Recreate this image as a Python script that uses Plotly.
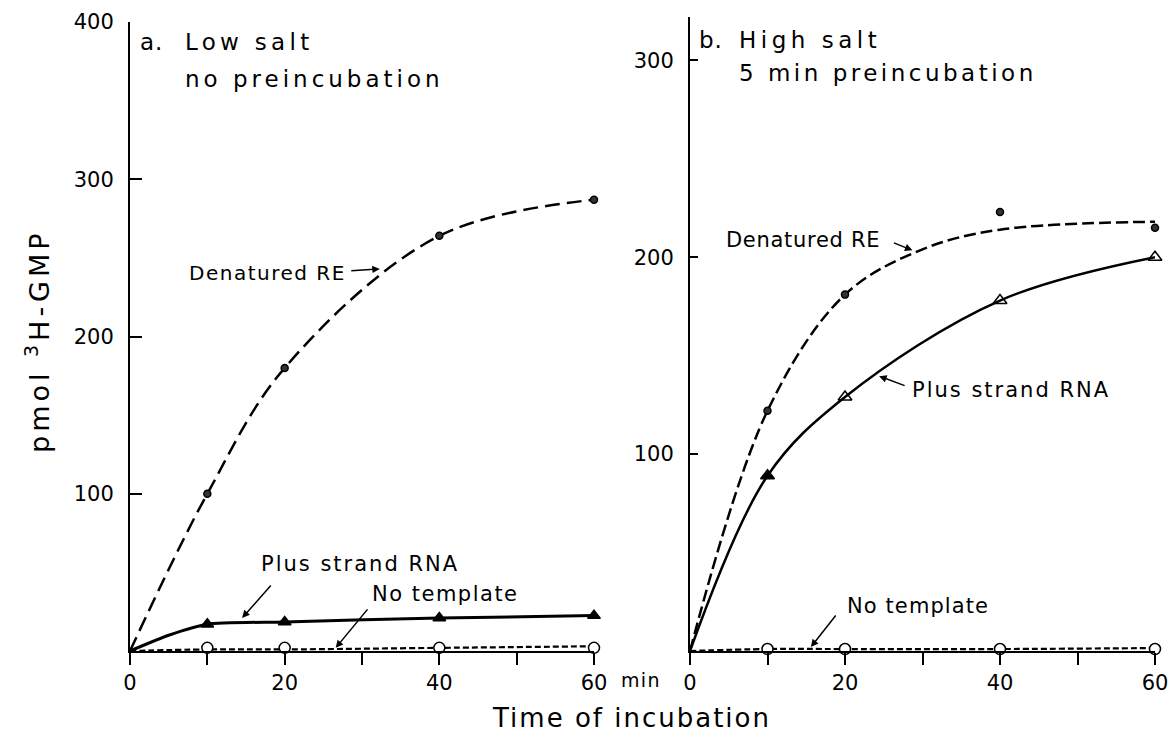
import json
import plotly.graph_objects as go

W, H = 1172, 736
FONT = "DejaVu Sans"

# ---------------- data ----------------
t_pts = [10, 20, 40, 60]

# Panel a: low salt, no preincubation
a_den_pts = [100, 180, 264, 287]
a_den_curve_t = [0, 10, 20, 40, 60]
a_den_curve = [0, 100, 180, 264, 287]

a_plus_pts = [17, 18.5, 21, 22.5]
a_plus_curve_t = [0, 5, 10, 20, 40, 60]
a_plus_curve = [0, 10, 17, 18.5, 21, 22.5]

a_none_pts = [2, 2, 2, 2]
a_none_curve_t = [0, 10, 20, 40, 60]
a_none_curve = [0, 1, 1, 2, 3]

# Panel b: high salt, 5 min preincubation
b_den_pts = [122, 181, 223, 215]
b_den_curve_t = [0, 10, 20, 30, 40, 60]
b_den_curve = [0, 122, 181, 204, 214, 218]

b_plus_pts = [89, 129, 178, 200]
b_plus_curve_t = [0, 10, 20, 40, 60]
b_plus_curve = [0, 89, 129, 178, 200]

b_none_pts = [1, 1, 1, 1]
b_none_curve_t = [0, 10, 20, 40, 60]
b_none_curve = [0, 1, 1, 1, 1.5]

x_tickvals = [0, 20, 40, 60]
x_ticktext = ["0", "20", "40", "60"]
x_minorvals = [10, 30, 50]
a_ytickvals = [100, 200, 300, 400]
b_ytickvals = [100, 200, 300]


def PX(x):
    return x / W


def PY(y):
    return 1 - y / H


fig = go.Figure()


def curve(xs, ys, xa, ya, dash, width, smoothing=1.0):
    fig.add_trace(go.Scatter(x=xs, y=ys, mode="lines", xaxis=xa, yaxis=ya,
                             line=dict(color="black", width=width, dash=dash,
                                       shape="spline", smoothing=smoothing),
                             showlegend=False, hoverinfo="skip", cliponaxis=False))


def marks(xs, ys, xa, ya, symbol, size, fill, lw=1.5):
    fig.add_trace(go.Scatter(x=xs, y=ys, mode="markers", xaxis=xa, yaxis=ya,
                             marker=dict(symbol=symbol, size=size, color=fill,
                                         line=dict(color="black", width=lw)),
                             showlegend=False, cliponaxis=False))


# panel a
curve(a_den_curve_t, a_den_curve, "x", "y", "15px,7px", 2.5)
curve(a_plus_curve_t, a_plus_curve, "x", "y", "solid", 3, 0.6)
curve(a_none_curve_t, a_none_curve, "x", "y", "6px,3px", 2.2)
marks(t_pts, a_den_pts, "x", "y", "circle", 7, "#333")
marks(t_pts, a_plus_pts, "x", "y", "triangle-up", 11, "black")
marks(t_pts, a_none_pts, "x", "y", "circle", 11, "white")

# panel b
curve(b_den_curve_t, b_den_curve, "x2", "y2", "12px,5px", 2.5)
curve(b_plus_curve_t, b_plus_curve, "x2", "y2", "solid", 2.5)
curve(b_none_curve_t, b_none_curve, "x2", "y2", "6px,3px", 2.2)
marks(t_pts, b_den_pts, "x2", "y2", "circle", 7, "#333")
marks(t_pts, b_plus_pts, "x2", "y2",
      ["triangle-up", "triangle-up-open", "triangle-up-open", "triangle-up-open"], 12, "black")
marks(t_pts, b_none_pts, "x2", "y2", "circle", 11, "white")

axis_common = dict(showline=True, linecolor="black", linewidth=2, showgrid=False,
                   zeroline=False, tickcolor="black", tickwidth=2, automargin=False,
                   tickfont=dict(family=FONT, size=21, color="black"))
minor_x = dict(tickvals=x_minorvals, ticks="outside", ticklen=12, tickwidth=2,
               tickcolor="black", showgrid=False)

fig.update_layout(
    width=W, height=H, margin=dict(l=0, r=0, t=0, b=0, autoexpand=False),
    paper_bgcolor="white", plot_bgcolor="white",
    font=dict(family=FONT, color="black"),
    xaxis=dict(domain=[PX(130), PX(594)], range=[0, 60], anchor="y",
               ticks="outside", ticklen=12, tickvals=x_tickvals, ticktext=x_ticktext,
               minor=minor_x, **axis_common),
    yaxis=dict(domain=[PY(651), PY(22)], range=[0, 400], anchor="x",
               ticks="inside", ticklen=12, tickvals=a_ytickvals,
               ticklabelstandoff=10, **axis_common),
    xaxis2=dict(domain=[PX(690), PX(1155)], range=[0, 60], anchor="y2",
                ticks="outside", ticklen=12, tickvals=x_tickvals, ticktext=x_ticktext,
                minor=minor_x, **axis_common),
    yaxis2=dict(domain=[PY(651), PY(17)], range=[0, 322], anchor="x2",
                ticks="inside", ticklen=8, tickvals=b_ytickvals,
                ticklabelstandoff=10, **axis_common),
)

spacing = []  # letter spacing (px) for each annotation, in order


def label(text, x, y, size=21, sp=0.0, xanchor="left"):
    fig.add_annotation(text=text, xref="paper", yref="paper", x=PX(x), y=PY(y),
                       xanchor=xanchor, yanchor="middle", showarrow=False,
                       align="left" if xanchor == "left" else "center",
                       font=dict(family=FONT, size=size, color="black"))
    spacing.append(sp)


def arrow(xa, ya, x, y, ax, ay):
    fig.add_annotation(text="", xref=xa, yref=ya, x=x, y=y, ax=ax, ay=ay,
                       showarrow=True, arrowhead=2, arrowsize=1, arrowwidth=1.5,
                       arrowcolor="black")
    spacing.append(0)


# panel titles
label("a.", 138, 42, 23, 1)
label("Low salt", 183, 42, 23, 4.3)
label("no preincubation", 183, 79, 23, 4.0)
label("b.", 697, 40, 23, 1)
label("High salt", 737, 40, 23, 4.5)
label("5 min preincubation", 737, 73, 23, 3.5)

# curve labels panel a
label("Denatured RE", 187, 273, 20, 1.5)
label("Plus strand RNA", 259, 564, 21, 2.0)
label("No template", 370, 594, 21, 1.5)
label("min", 619, 680, 19, 1.3)

# curve labels panel b
label("Denatured RE", 724, 240, 21, 0.7)
label("Plus strand RNA", 910, 390, 21, 2.0)
label("No template", 845, 606, 21, 1.1)

# axis titles
label("Time of incubation", 631, 718, 26, 2.0, xanchor="center")
fig.add_annotation(text="pmol <sup>3</sup>H-GMP", xref="paper", yref="paper",
                   x=PX(37), y=PY(341), textangle=-90, showarrow=False,
                   xanchor="center", yanchor="middle",
                   font=dict(family=FONT, size=27, color="black"))
spacing.append(4.0)

# arrows (tip in data coords, tail offset in pixels)
arrow("x", "y", 32.3, 243, -30, 2)
arrow("x", "y", 14.5, 21, 30, -34)
arrow("x", "y", 26.6, 2, 33, -40)
arrow("x2", "y2", 28.7, 203.5, -20, -8)
arrow("x2", "y2", 24.4, 139.6, 27, 10)
arrow("x2", "y2", 15.6, 2, 26, -33)

post = """
(function(){
  var sp = %s;
  function apply(){
    var gd = document.getElementById('{plot_id}');
    if(!gd) return;
    gd.querySelectorAll('g.annotation').forEach(function(g){
      var i = +g.getAttribute('data-index');
      var t = g.querySelector('text.annotation-text');
      if(t && sp[i]) t.style.letterSpacing = sp[i] + 'px';
    });
  }
  apply();
  setTimeout(apply, 50);
  var gd = document.getElementById('{plot_id}');
  if(gd && gd.on) gd.on('plotly_afterplot', apply);
})();
""" % json.dumps(spacing)

fig.write_html("out.html", post_script=post)
